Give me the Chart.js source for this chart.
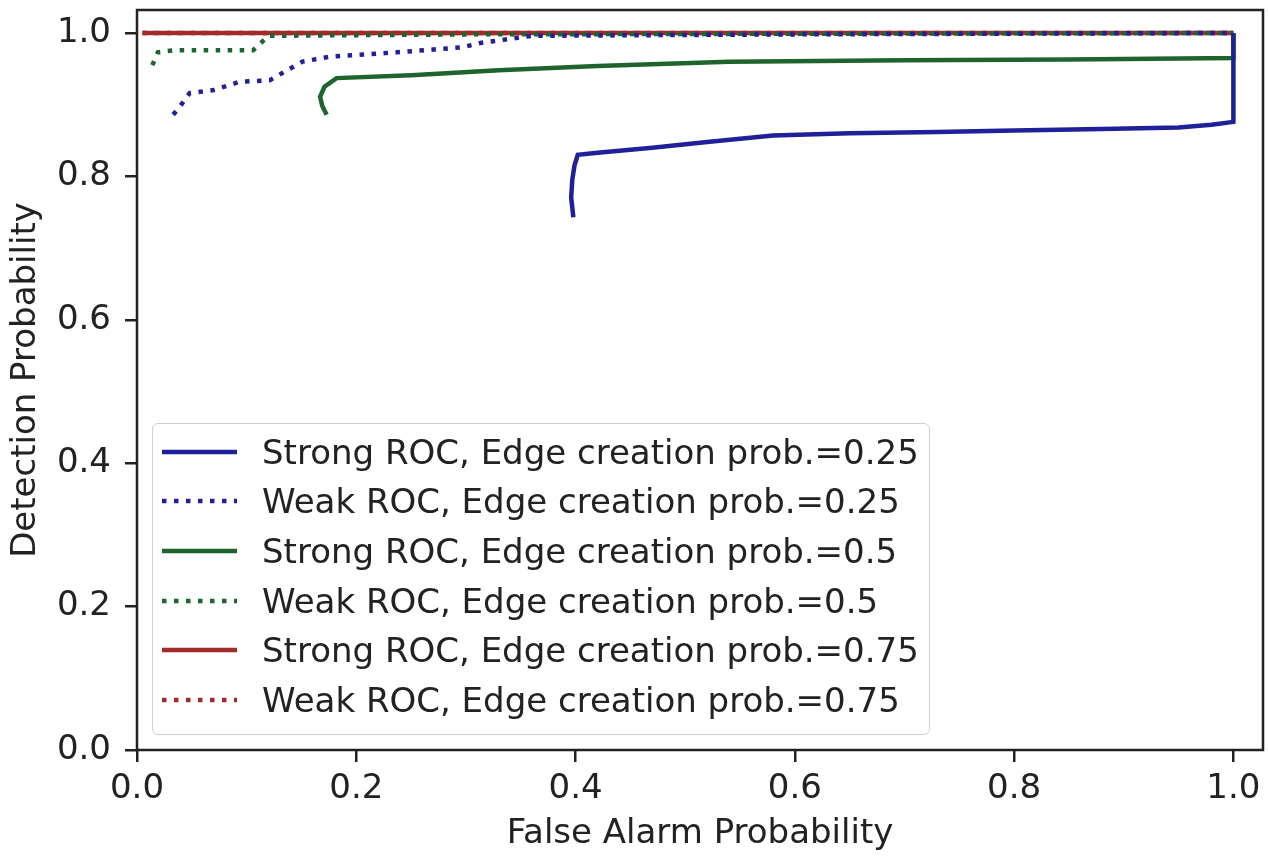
<!DOCTYPE html>
<html><head><meta charset="utf-8">
<script src="https://cdn.jsdelivr.net/npm/chart.js@4/dist/chart.umd.min.js"></script>
<style>
html,body{margin:0;padding:0;background:#fff;}
#wrap{position:relative;width:1268px;height:858px;}
#legend{position:absolute;left:152px;top:423px;width:778px;height:312px;border:1.5px solid #d0d0d0;border-radius:6px;background:rgba(255,255,255,0.8);box-sizing:border-box;padding-top:3px;font-family:"DejaVu Sans";font-size:34px;color:#222;}
.row{display:flex;align-items:center;height:49.6px;white-space:nowrap;}
.row svg{margin-left:9px;margin-right:25px;flex:none;}
</style></head><body>
<div id="wrap"><canvas id="c" width="1268" height="858" style="width:1268px;height:858px;"></canvas><div id="legend"></div></div>
<script>
// ---- data ----
const seriesLabels = [
  'Strong ROC, Edge creation prob.=0.25',
  'Weak ROC, Edge creation prob.=0.25',
  'Strong ROC, Edge creation prob.=0.5',
  'Weak ROC, Edge creation prob.=0.5',
  'Strong ROC, Edge creation prob.=0.75',
  'Weak ROC, Edge creation prob.=0.75'
];
const strong025X = [0.398, 0.396, 0.397, 0.399, 0.402, 0.42, 0.47, 0.52, 0.58, 0.65, 0.73, 0.80, 0.88, 0.95, 0.98, 1.0, 1.0];
const strong025Y = [0.743, 0.770, 0.795, 0.815, 0.830, 0.833, 0.840, 0.848, 0.857, 0.860, 0.862, 0.864, 0.866, 0.868, 0.872, 0.876, 1.0];
const weak025X = [0.033, 0.039, 0.048, 0.069, 0.094, 0.121, 0.137, 0.151, 0.176, 0.237, 0.297, 0.313, 0.36, 0.60, 1.0];
const weak025Y = [0.886, 0.897, 0.916, 0.920, 0.932, 0.934, 0.948, 0.960, 0.967, 0.973, 0.980, 0.986, 0.996, 0.998, 1.0];
const strong05X = [0.173, 0.169, 0.167, 0.171, 0.182, 0.25, 0.33, 0.42, 0.54, 0.70, 0.85, 1.0, 1.0];
const strong05Y = [0.886, 0.898, 0.911, 0.925, 0.937, 0.941, 0.948, 0.954, 0.960, 0.962, 0.963, 0.965, 1.0];
const weak05X = [0.014, 0.019, 0.035, 0.106, 0.120, 0.30, 1.0];
const weak05Y = [0.955, 0.973, 0.976, 0.976, 0.996, 0.998, 1.0];
const strong075X = [0.005, 0.25, 0.5, 0.75, 1.0];
const strong075Y = [1.0, 1.0, 1.0, 1.0, 1.0];
const weak075X = [0.005, 0.25, 0.5, 0.75, 1.0];
const weak075Y = [1.0, 1.0, 1.0, 1.0, 1.0];
const xTickValues = [0.0, 0.2, 0.4, 0.6, 0.8, 1.0];
const yTickValues = [0.0, 0.2, 0.4, 0.6, 0.8, 1.0];

// ---- styles ----
const BLUE = '#20209a', GREEN = '#1d652d', RED = '#a22a2a';
const DOT = [4.5, 7.5];
const FONT = {family: 'DejaVu Sans', size: 34};
const TXT = '#222';

function pts(xs, ys){ return xs.map((x,i)=>({x:x, y:ys[i]})); }
const seriesXs = [strong025X, weak025X, strong05X, weak05X, strong075X, weak075X];
const seriesYs = [strong025Y, weak025Y, strong05Y, weak05Y, strong075Y, weak075Y];
const seriesColors = [BLUE, BLUE, GREEN, GREEN, RED, RED];
const seriesDash = [[], DOT, [], DOT, [], DOT];

const datasets = seriesLabels.map((lab,i)=>({
  label: lab,
  data: pts(seriesXs[i], seriesYs[i]),
  showLine: true,
  borderColor: seriesColors[i],
  backgroundColor: seriesColors[i],
  borderWidth: 4.5,
  borderDash: seriesDash[i],
  borderCapStyle: 'butt',
  pointRadius: 0,
  fill: false,
  tension: 0
}));

const framePlugin = {
  id: 'frame',
  afterDatasetsDraw(chart){
    const {ctx, chartArea:a} = chart;
    ctx.save();
    ctx.strokeStyle = '#222';
    ctx.lineWidth = 2.5;
    ctx.setLineDash([]);
    ctx.strokeRect(a.left, a.top, a.right - a.left, a.bottom - a.top);
    ctx.restore();
  }
};

const htmlLegend = {
  id: 'htmlLegend',
  afterUpdate(chart){
    const box = document.getElementById('legend');
    box.innerHTML = '';
    chart.data.datasets.forEach(ds=>{
      const row = document.createElement('div');
      row.className = 'row';
      const dash = (ds.borderDash && ds.borderDash.length) ? `stroke-dasharray="${ds.borderDash.join(' ')}"` : '';
      row.innerHTML = `<svg width="75" height="12"><line x1="0" y1="6" x2="75" y2="6" stroke="${ds.borderColor}" stroke-width="4.5" ${dash}/></svg>`;
      const span = document.createElement('span');
      span.textContent = ds.label;
      row.appendChild(span);
      box.appendChild(row);
    });
  }
};

const axisCommon = {
  type: 'linear',
  grid: {drawOnChartArea: false, drawTicks: true, tickLength: 12, color: '#222', lineWidth: 2.5},
  border: {display: false},
};

new Chart(document.getElementById('c').getContext('2d'), {
  type: 'scatter',
  data: {datasets: datasets},
  options: {
    responsive: false,
    animation: false,
    layout: {padding: {left: 0, top: 10, right: 5, bottom: 0}},
    plugins: {legend: {display: false}, tooltip: {enabled: false}},
    scales: {
      x: Object.assign({}, axisCommon, {
        min: 0, max: 1.027,
        afterBuildTicks: s => { s.ticks = xTickValues.map(v=>({value:v})); },
        afterFit: s => { s.height = 108; s.paddingLeft = 0; s.paddingRight = 0; },
        ticks: {callback: v => Number(v).toFixed(1), font: FONT, color: TXT, padding: 7, maxRotation: 0, autoSkip: false},
        title: {display: true, text: 'False Alarm Probability', font: FONT, color: TXT, padding: {top: 0, bottom: 3}}
      }),
      y: Object.assign({}, axisCommon, {
        min: 0, max: 1.032,
        afterBuildTicks: s => { s.ticks = yTickValues.map(v=>({value:v})); },
        afterFit: s => { s.width = 137; s.paddingTop = 0; s.paddingBottom = 0; },
        ticks: {callback: v => Number(v).toFixed(1), font: FONT, color: TXT, padding: 14, autoSkip: false},
        title: {display: true, text: 'Detection Probability', font: FONT, color: TXT, padding: {top: 6, bottom: 0}}
      })
    }
  },
  plugins: [framePlugin, htmlLegend]
});
</script>
</body></html>
